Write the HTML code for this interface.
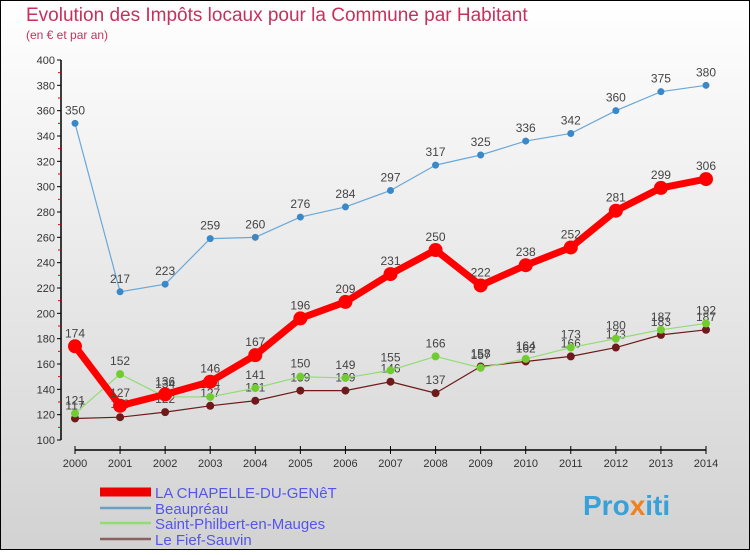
<!DOCTYPE html>
<html><head><meta charset="utf-8">
<style>
html,body{margin:0;padding:0;}
body{width:750px;height:550px;overflow:hidden;font-family:"Liberation Sans",sans-serif;}
svg text{font-family:"Liberation Sans",sans-serif;}
</style></head>
<body>
<svg id="chart" width="750" height="550" xmlns="http://www.w3.org/2000/svg">
<defs>
<linearGradient id="bg" x1="0" y1="0" x2="0" y2="1">
<stop offset="0" stop-color="#ffffff"/><stop offset="1" stop-color="#d2d2d2"/>
</linearGradient>
</defs>
<rect x="0.5" y="0.5" width="749" height="549" fill="url(#bg)" stroke="#000"/>
<text x="26" y="21" font-size="19" fill="#c8305c">Evolution des Impôts locaux pour la Commune par Habitant</text>
<text x="26" y="39" font-size="12" fill="#c8305c">(en € et par an)</text>
<g id="axes"></g>
<g id="series"></g>
<g id="legend"></g>
<text x="583" y="515" font-size="28" font-weight="bold" fill="#3aa0d8">Pro<tspan fill="#f08020">x</tspan>iti</text>
</svg>
<script>
const years = [2000,2001,2002,2003,2004,2005,2006,2007,2008,2009,2010,2011,2012,2013,2014];
const yTicks = [100,120,140,160,180,200,220,240,260,280,300,320,340,360,380,400];
const chapelle = [174,127,136,146,167,196,209,231,250,222,238,252,281,299,306];
const beaupreau = [350,217,223,259,260,276,284,297,317,325,336,342,360,375,380];
const philbert = [121,152,134,134,141,150,149,155,166,157,164,173,180,187,192];
const fief = [117,118,122,127,131,139,139,146,137,158,162,166,173,183,187];
const seriesNames = ["LA CHAPELLE-DU-GENêT","Beaupréau","Saint-Philbert-en-Mauges","Le Fief-Sauvin"];

const NS="http://www.w3.org/2000/svg";
const x0=75,x1=706,y0=440,y1=60,vmin=100,vmax=400;
function xs(i){return x0+(x1-x0)*i/(years.length-1);}
function ys(v){return y0-(v-vmin)*(y0-y1)/(vmax-vmin);}
function mk(tag,attrs,parent){const e=document.createElementNS(NS,tag);for(const k in attrs)e.setAttribute(k,attrs[k]);parent.appendChild(e);return e;}
const axes=document.getElementById('axes');
let yl=mk('line',{x1:61,y1:y1,x2:61,y2:y0,stroke:'#000','stroke-width':1.5},axes);


yTicks.forEach((t,i)=>{
  const y=ys(t);
  mk('line',{x1:57,y1:y,x2:61,y2:y,stroke:'#000'},axes);
  if(i<yTicks.length-1){const ym=ys(t+10);mk('line',{x1:58,y1:ym,x2:61,y2:ym,stroke:'#e00000'},axes);}
  const tx=mk('text',{x:55,y:y+4,'font-size':11,'text-anchor':'end',fill:'#333'},axes);
  tx.textContent=t;
  
  
});
let xl=mk('line',{x1:x0,y1:450,x2:x1,y2:450,stroke:'#000','stroke-width':1.5},axes);


years.forEach((yr,i)=>{
  const x=xs(i);
  mk('line',{x1:x,y1:446,x2:x,y2:454,stroke:'#000'},axes);
  const tx=mk('text',{x:x,y:467,'font-size':11,'text-anchor':'middle',fill:'#333'},axes);
  tx.textContent=yr;
  
  
});
const sg=document.getElementById('series');
const defs=[
 {d:fief,c:'#6e1a1a',w:1.2,r:4,dot:'#6e1a1a',n:'series-le-fief-sauvin'},
 {d:philbert,c:'#90dd70',w:1.2,r:4,dot:'#70cc30',n:'series-saint-philbert'},
 {d:beaupreau,c:'#6aa8d8',w:1.2,r:3.5,dot:'#3a88c8',n:'series-beaupreau'},
 {d:chapelle,c:'#ff0000',w:7,r:7,dot:'#ff0000',n:'series-la-chapelle'}
];
defs.forEach(s=>{
  const g=mk('g',{},sg);
  
  
  const pl=mk('polyline',{points:s.d.map((v,i)=>xs(i)+','+ys(v)).join(' '),fill:'none',stroke:s.c,'stroke-width':s.w,'stroke-linejoin':'round'},g);
  
  
  s.d.forEach((v,i)=>{
    const c=mk('circle',{cx:xs(i),cy:ys(v),r:s.r,fill:s.dot},g);
    
    
    const t=mk('text',{x:xs(i),y:ys(v)-9,'font-size':12,'text-anchor':'middle',fill:'#444'},g);
    t.textContent=v;
    
    
  });
});
const lg=document.getElementById('legend');
const lc=[['#ee0000',9],['#6aa0c8',2.5],['#90dd70',2.5],['#8a6060',2.5]];
const ly=[492,508,523,539];
seriesNames.forEach((nm,i)=>{
  const g=mk('g',{},lg);
  
  
  mk('line',{x1:100,y1:ly[i],x2:151,y2:ly[i],stroke:lc[i][0],'stroke-width':lc[i][1]},g);
  const t=mk('text',{x:155,y:ly[i]+6,'font-size':15,fill:'#5555ee'},g);
  t.textContent=nm;
});
</script>
</body></html>
